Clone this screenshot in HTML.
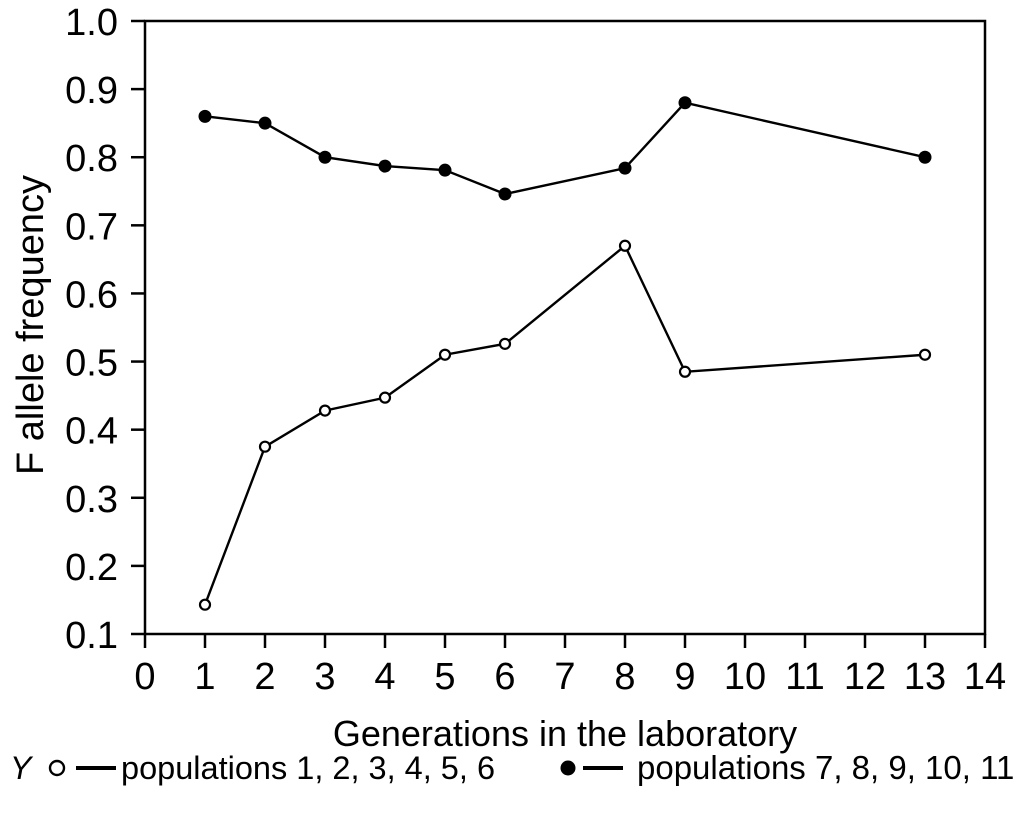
<!DOCTYPE html>
<html><head><meta charset="utf-8"><style>
body{margin:0;background:#fff}
svg text{font-family:"Liberation Sans",sans-serif;fill:#000}
</style></head><body>
<svg width="1025" height="813" viewBox="0 0 1025 813">
<g id="axes"></g>
<g id="marks"></g>
<text x="565" y="746" font-size="36" text-anchor="middle">Generations in the laboratory</text>
<text transform="translate(43,325) rotate(-90)" font-size="38" text-anchor="middle">F allele frequency</text>
<g>
<text x="10" y="779" font-size="32" font-style="italic">Y</text>
<circle cx="57" cy="768" r="7" fill="#fff" stroke="#000" stroke-width="2.4"/>
<line x1="76" y1="768" x2="116" y2="768" stroke="#000" stroke-width="4"/>
<text x="121" y="779" font-size="32.5">populations 1, 2, 3, 4, 5, 6</text>
<circle cx="568" cy="768" r="7.5" fill="#000"/>
<line x1="583" y1="768" x2="623" y2="768" stroke="#000" stroke-width="4"/>
<text x="637" y="779" font-size="33">populations 7, 8, 9, 10, 11</text>
</g>
</svg>
<script>
const generations=[1,2,3,4,5,6,8,9,13];
const openValues=[0.143,0.375,0.428,0.447,0.510,0.526,0.670,0.485,0.510];
const filledValues=[0.860,0.850,0.800,0.787,0.781,0.746,0.784,0.880,0.800];
const xTicks=[0,1,2,3,4,5,6,7,8,9,10,11,12,13,14];
const yTicks=["0.1","0.2","0.3","0.4","0.5","0.6","0.7","0.8","0.9","1.0"];
const NS="http://www.w3.org/2000/svg";
const L=145,R=985,T=21,B=634;
const xs=v=>L+(v-0)/(14-0)*(R-L);
const ys=v=>B-(v-0.1)/(1.0-0.1)*(B-T);
function mk(tag,attrs,parent){const e=document.createElementNS(NS,tag);for(const k in attrs)e.setAttribute(k,attrs[k]);parent.appendChild(e);return e;}
const ax=document.getElementById('axes'),mg=document.getElementById('marks');
let frame=mk('path',{d:`M${L} ${T}H${R}V${B}H${L}Z`,fill:'none',stroke:'#000','stroke-width':2.5},ax);


xTicks.forEach(t=>{
 const x=xs(t);
 let tk=mk('line',{x1:x,y1:B,x2:x,y2:B+14,stroke:'#000','stroke-width':2.5},ax);
 
 
 let lb=mk('text',{x:x,y:B+55,'font-size':38,'text-anchor':'middle'},ax);lb.textContent=t;
 
 
});
yTicks.forEach(t=>{
 const y=ys(parseFloat(t));
 let tk=mk('line',{x1:L-14,y1:y,x2:L,y2:y,stroke:'#000','stroke-width':2.5},ax);
 
 
 let lb=mk('text',{x:L-27,y:y+14,'font-size':38,'text-anchor':'end'},ax);lb.textContent=t;
 
 
});
function series(vals,filled,name){
 const pts=generations.map((g,i)=>xs(g)+','+ys(vals[i])).join(' ');
 let pl=mk('polyline',{points:pts,fill:'none',stroke:'#000','stroke-width':2.4},mg);
 
 
 generations.forEach((g,i)=>{
  let c=mk('circle',filled?{cx:xs(g),cy:ys(vals[i]),r:6.5,fill:'#000'}:{cx:xs(g),cy:ys(vals[i]),r:5,fill:'#fff',stroke:'#000','stroke-width':2.2},mg);
  
  
 });
}
series(openValues,false,'populations-1-6');
series(filledValues,true,'populations-7-11');
</script>
</body></html>
